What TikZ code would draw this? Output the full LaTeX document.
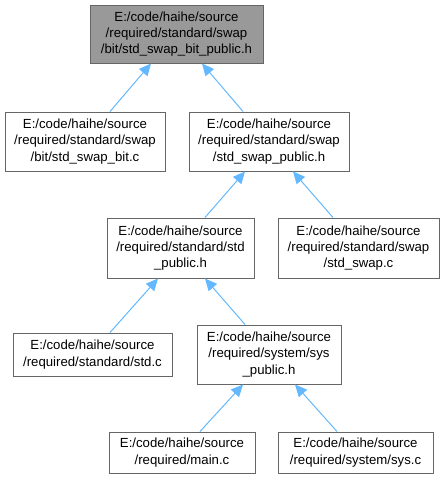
\documentclass[tikz,border=0pt]{standalone}
\usepackage{fontspec}
\setmainfont{Liberation Sans}
\usetikzlibrary{arrows.meta}
\definecolor{edgeblue}{HTML}{63B8FF}
\definecolor{boxline}{HTML}{666666}
\definecolor{rootfill}{HTML}{999999}

\begin{document}
\begin{tikzpicture}[x=1pt, y=-1pt,
    file/.style={draw=boxline, line width=1pt, fill=white, align=center, inner sep=0pt,
                 font=\fontsize{13.2}{16.3}\selectfont},
    root/.style={file, fill=rootfill},
    edge/.style={draw=edgeblue, line width=1pt, -{Triangle[length=12pt,width=11pt,fill=edgeblue]}}]

    \useasboundingbox (0,0) rectangle (443,480);

    % Cabecera principal
    \node[root, minimum width=173pt, minimum height=58pt] (top) at (176.5,34)
        {E:/code/haihe/source\\/required/standard/swap\\/bit/std\_swap\_bit\_public.h};

    % Segundo nivel
    \node[file, minimum width=160pt, minimum height=59pt] (bitc) at (85,141.5)
        {E:/code/haihe/source\\/required/standard/swap\\/bit/std\_swap\_bit.c};
    \node[file, minimum width=160pt, minimum height=59pt] (swappub) at (269,141.5)
        {E:/code/haihe/source\\/required/standard/swap\\/std\_swap\_public.h};

    % Tercer nivel
    \node[file, minimum width=147pt, minimum height=60pt] (stdpub) at (180.5,248)
        {E:/code/haihe/source\\/required/standard/std\\\_public.h};
    \node[file, minimum width=161pt, minimum height=60pt] (swapc) at (358.5,248)
        {E:/code/haihe/source\\/required/standard/swap\\/std\_swap.c};

    % Cuarto nivel
    \node[file, minimum width=159pt, minimum height=43pt] (stdc) at (92.5,354.5)
        {E:/code/haihe/source\\/required/standard/std.c};
    \node[file, minimum width=144pt, minimum height=59pt] (syspub) at (269,354.5)
        {E:/code/haihe/source\\/required/system/sys\\\_public.h};

    % Quinto nivel
    \node[file, minimum width=146pt, minimum height=41pt] (mainc) at (182,452.5)
        {E:/code/haihe/source\\/required/main.c};
    \node[file, minimum width=155pt, minimum height=41pt] (sysc) at (355.5,452.5)
        {E:/code/haihe/source\\/required/system/sys.c};

    % Dependencias
    \draw[edge] ([xshift=25pt]bitc.north) -- ([xshift=-25.5pt]top.south);
    \draw[edge] ([xshift=-26pt]swappub.north) -- ([xshift=25.5pt]top.south);
    \draw[edge] ([xshift=24.5pt]stdpub.north) -- ([xshift=-24pt]swappub.south);
    \draw[edge] ([xshift=-25.5pt]swapc.north) -- ([xshift=24pt]swappub.south);
    \draw[edge] ([xshift=17.5pt]stdc.north) -- ([xshift=-22.5pt]stdpub.south);
    \draw[edge] ([xshift=-24pt]syspub.north) -- ([xshift=24.5pt]stdpub.south);
    \draw[edge] ([xshift=18pt]mainc.north) -- ([xshift=-26pt]syspub.south);
    \draw[edge] ([xshift=-18.5pt]sysc.north) -- ([xshift=26pt]syspub.south);

\end{tikzpicture}
\end{document}
